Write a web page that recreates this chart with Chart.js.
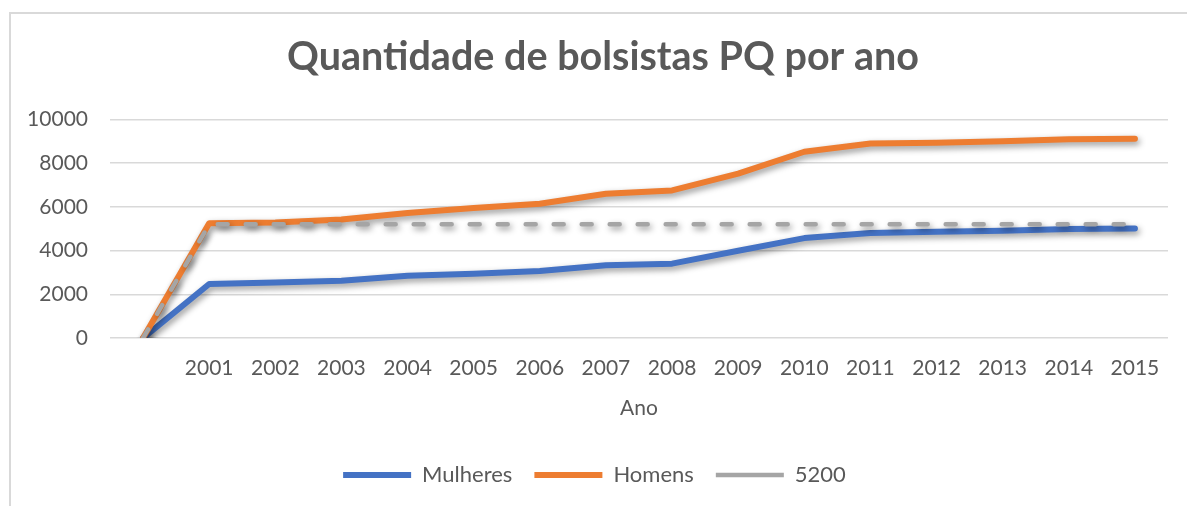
<!DOCTYPE html>
<html>
<head>
<meta charset="utf-8">
<script src="https://cdn.jsdelivr.net/npm/chart.js@4.4.1/dist/chart.umd.min.js"></script>
<style>
  html, body { margin: 0; padding: 0; background: #ffffff; overflow: hidden; width: 1187px; height: 506px; }
  #frame { position: absolute; left: 9px; top: 12px; width: 1186px; height: 494px;
           border-left: 2px solid #d9d9d9; border-top: 2px solid #d9d9d9; }
  #wrap { position: absolute; left: 11px; top: 14px; width: 1184px; height: 492px; }
  #wrap canvas { display: block; }
</style>
</head>
<body>
<div id="frame"></div>
<div id="wrap"><canvas id="c" width="1184" height="492" style="width:1184px;height:492px"></canvas></div>
<script>
// ---- data ----
const categories = ['', '2001', '2002', '2003', '2004', '2005', '2006', '2007', '2008', '2009', '2010', '2011', '2012', '2013', '2014', '2015'];
const mulheres = [0, 2470, 2540, 2620, 2850, 2940, 3060, 3330, 3400, 3990, 4570, 4800, 4860, 4910, 4990, 5010];
const homens   = [0, 5250, 5280, 5420, 5720, 5950, 6140, 6600, 6750, 7520, 8520, 8900, 8930, 9000, 9090, 9110];
const limite   = [0, 5200, 5200, 5200, 5200, 5200, 5200, 5200, 5200, 5200, 5200, 5200, 5200, 5200, 5200, 5200];
const seriesNames = ['Mulheres', 'Homens', '5200'];
const titleText = 'Quantidade de bolsistas PQ por ano';
const xTitle = 'Ano';

const FONT = "Lato, 'Open Sans', sans-serif";
const TXT = '#595959';

const shadowPlugin = {
  id: 'lineShadow',
  beforeDatasetDraw(chart) {
    const ctx = chart.ctx;
    ctx.save();
    ctx.shadowColor = 'rgba(0,0,0,0.42)';
    ctx.shadowBlur = 6;
    ctx.shadowOffsetX = 2;
    ctx.shadowOffsetY = 3;
  },
  afterDatasetDraw(chart) {
    chart.ctx.restore();
  }
};

// legend in the reference sits a little left of the chart's centre;
// y-axis label area widened so "10000" is not clipped
const layoutTweaks = {
  id: 'layoutTweaks',
  afterLayout(chart) {
    if (chart.legend) { chart.legend.right -= 17; }
    if (chart.scales.y) { chart.scales.y.left = 0; }
  }
};

new Chart(document.getElementById('c'), {
  type: 'line',
  data: {
    labels: categories,
    datasets: [
      { label: seriesNames[0], data: mulheres, borderColor: '#4472C4', backgroundColor: '#4472C4',
        borderWidth: 6, pointRadius: 0, borderCapStyle: 'round', borderJoinStyle: 'round', tension: 0, order: 2 },
      { label: seriesNames[1], data: homens, borderColor: '#ED7D31', backgroundColor: '#ED7D31',
        borderWidth: 6, pointRadius: 0, borderCapStyle: 'round', borderJoinStyle: 'round', tension: 0, order: 1 },
      { label: seriesNames[2], data: limite, borderColor: '#A5A5A5', backgroundColor: '#A5A5A5',
        borderWidth: 4.5, borderDash: [10, 18], pointRadius: 0, borderCapStyle: 'round', borderJoinStyle: 'round', tension: 0, order: 0 }
    ]
  },
  plugins: [shadowPlugin, layoutTweaks],
  options: {
    responsive: false,
    animation: false,
    devicePixelRatio: 1,
    layout: { padding: { left: 27, right: 27, top: 0, bottom: 10 } },
    plugins: {
      title: {
        display: true, text: titleText, color: TXT,
        font: { family: FONT, size: 39.5, weight: 'bold', lineHeight: 1.2 },
        padding: { top: 20, bottom: 38 }
      },
      legend: {
        position: 'bottom',
        labels: {
          color: TXT, font: { family: FONT, size: 22 },
          usePointStyle: true, pointStyle: 'line', pointStyleWidth: 68, boxHeight: 10,
          padding: 22,
          sort: (a, b) => a.datasetIndex - b.datasetIndex
        }
      },
      tooltip: { enabled: false }
    },
    scales: {
      x: {
        offset: true,
        grid: { display: false, drawTicks: false },
        border: { display: false },
        ticks: { color: TXT, font: { family: FONT, size: 21, lineHeight: 1 }, padding: 19.5, maxRotation: 0, autoSkip: false },
        title: { display: true, text: xTitle, color: TXT, font: { family: FONT, size: 21, lineHeight: 1 }, padding: { top: 0, bottom: 23 } }
      },
      y: {
        min: 0, max: 10000,
        grid: { color: '#D9D9D9', lineWidth: 1.5, drawTicks: false },
        border: { display: false },
        ticks: { stepSize: 2000, color: TXT, font: { family: FONT, size: 21 }, padding: 22,
                 callback: (v) => String(v) },
        afterFit(scale) { scale.width = 72; }
      }
    }
  }
});
</script>
</body>
</html>
